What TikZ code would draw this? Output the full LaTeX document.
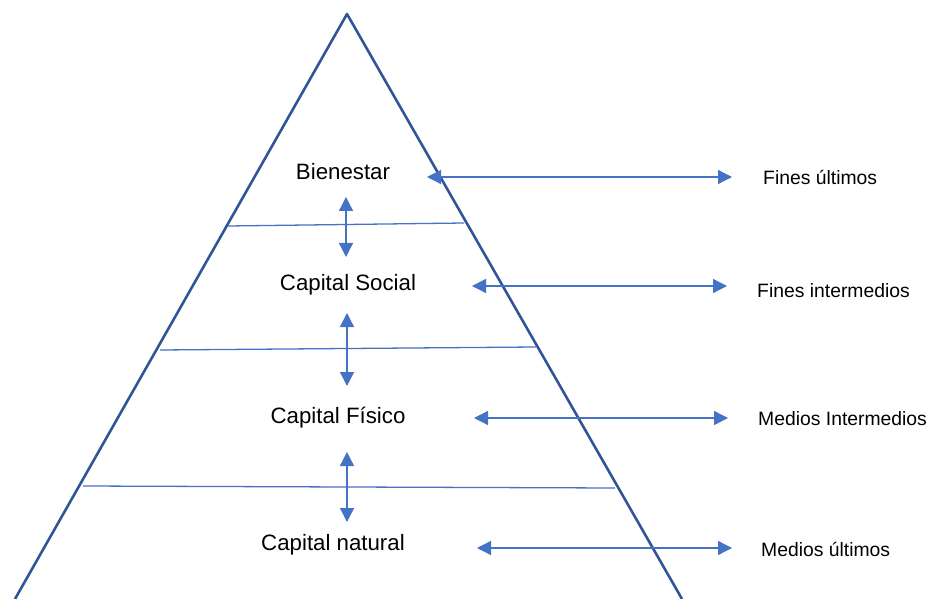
\documentclass[tikz,border=0pt]{standalone}
\usepackage{fontspec}
\setmainfont{Liberation Sans}
\usetikzlibrary{arrows.meta}

\definecolor{pyr}{HTML}{2F5597}
\definecolor{lay}{HTML}{4472C4}

\begin{document}
\begin{tikzpicture}[x=0.03cm,y=-0.03cm,
  side/.style={draw=pyr, line width=2.2pt, line join=round},
  layer/.style={draw=lay, line width=1.1pt},
  link/.style={draw=lay, line width=1.1pt,
    {Triangle[length=4.2mm,width=4.2mm]}-{Triangle[length=4.2mm,width=4.2mm]}},
  level/.style={font=\fontsize{19}{19}\selectfont, inner sep=0pt},
  role/.style={font=\fontsize{16.5}{16.5}\selectfont, inner sep=0pt, anchor=west}]
\useasboundingbox (0,0) rectangle (929,599);

% pyramid
\coordinate (top) at (347,14);
\coordinate (bl) at (15,599);
\coordinate (br) at (682,599);
\draw[side] (bl) -- (top) -- (br);

% layers
\coordinate (l1a) at (228,226); \coordinate (l1b) at (464,223);
\coordinate (l2a) at (160,350); \coordinate (l2b) at (536,347);
\coordinate (l3a) at (83,486);  \coordinate (l3b) at (615,488);
\draw[layer] (l1a) -- (l1b);
\draw[layer] (l2a) -- (l2b);
\draw[layer] (l3a) -- (l3b);

% levels
\node[level] (bien) at (343,172) {Bienestar};
\node[level] (social) at (348,285) {Capital Social};
\node[level] (fisico) at (338,418) {Capital Físico};
\node[level] (natural) at (333,545) {Capital natural};

% between levels
\coordinate (v1a) at (346,197); \coordinate (v1b) at (346,257);
\coordinate (v2a) at (347,313); \coordinate (v2b) at (347,386);
\coordinate (v3a) at (347,452); \coordinate (v3b) at (347,522);
\draw[link] (v1a) -- (v1b);
\draw[link] (v2a) -- (v2b);
\draw[link] (v3a) -- (v3b);

% roles
\node[role] (fu) at (763,177) {Fines últimos};
\node[role] (fi) at (757,291) {Fines intermedios};
\node[role] (mi) at (758,419) {Medios Intermedios};
\node[role] (mu) at (761,549) {Medios últimos};

\coordinate (h1a) at (427,177); \coordinate (h1b) at (732,177);
\coordinate (h2a) at (472,286); \coordinate (h2b) at (727,286);
\coordinate (h3a) at (474,418); \coordinate (h3b) at (728,418);
\coordinate (h4a) at (477,548); \coordinate (h4b) at (732,548);
\draw[link] (h1a) -- (h1b);
\draw[link] (h2a) -- (h2b);
\draw[link] (h3a) -- (h3b);
\draw[link] (h4a) -- (h4b);

\end{tikzpicture}
\end{document}
